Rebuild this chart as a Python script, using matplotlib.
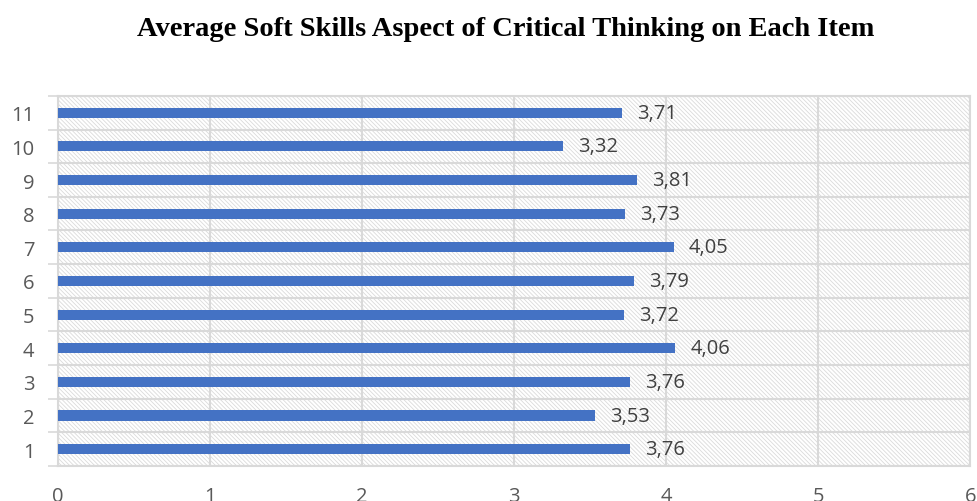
import matplotlib.pyplot as plt
from matplotlib.patches import Rectangle

items = ["1", "2", "3", "4", "5", "6", "7", "8", "9", "10", "11"]
scores = [3.76, 3.53, 3.76, 4.06, 3.72, 3.79, 4.05, 3.73, 3.81, 3.32, 3.71]
x_ticks = [0, 1, 2, 3, 4, 5, 6]

plt.rcParams["hatch.color"] = "#dadada"
plt.rcParams["hatch.linewidth"] = 0.6

fig = plt.figure(figsize=(9.77, 5.02), dpi=100)
ax = fig.add_axes([0.0594, 0.0697, 0.9336, 0.7373])

pos = list(range(len(items)))
ax.set_xlim(0, 6)
ax.set_ylim(-0.5, len(items) - 0.5)

# hatched plot area like the excel chart
ax.add_patch(Rectangle((0, 0), 1, 1, transform=ax.transAxes, facecolor="white",
                       edgecolor="#dadada", hatch="\\" * 8, lw=0, zorder=0))

ax.barh(pos, scores, height=0.3, color="#4472C4", zorder=3)
for p, v in zip(pos, scores):
    ax.text(v + 0.1, p, f"{v:.2f}".replace(".", ","), va="center", ha="left",
            fontsize=14.5, color="#404040", family="Open Sans", zorder=4)

ax.set_xticks(x_ticks)
ax.set_xticklabels([str(t) for t in x_ticks], fontsize=14.5, color="#595959", family="Open Sans")
ax.tick_params(axis="x", length=0, pad=14.5)

ax.set_yticks([p - 0.5 for p in pos] + [len(items) - 0.5])
ax.set_yticklabels([])
ax.set_yticks(pos, minor=True)
ax.set_yticklabels(items, minor=True, fontsize=14.5, color="#595959", family="Open Sans")
ax.tick_params(axis="y", which="major", length=7, color="#d9d9d9", width=1.2)
ax.tick_params(axis="y", which="minor", length=0, pad=17)

ax.grid(True, which="major", color="#d9d9d9", lw=1.5, zorder=1)
ax.set_axisbelow(True)
for s in ax.spines.values():
    s.set_color("#d9d9d9")
    s.set_linewidth(1.5)

fig.text(0.518, 0.942, "Average Soft Skills Aspect of Critical Thinking on Each Item",
         ha="center", va="center", fontsize=20.5, fontweight="bold",
         family="Liberation Serif")

fig.savefig("out.png", dpi=100)
